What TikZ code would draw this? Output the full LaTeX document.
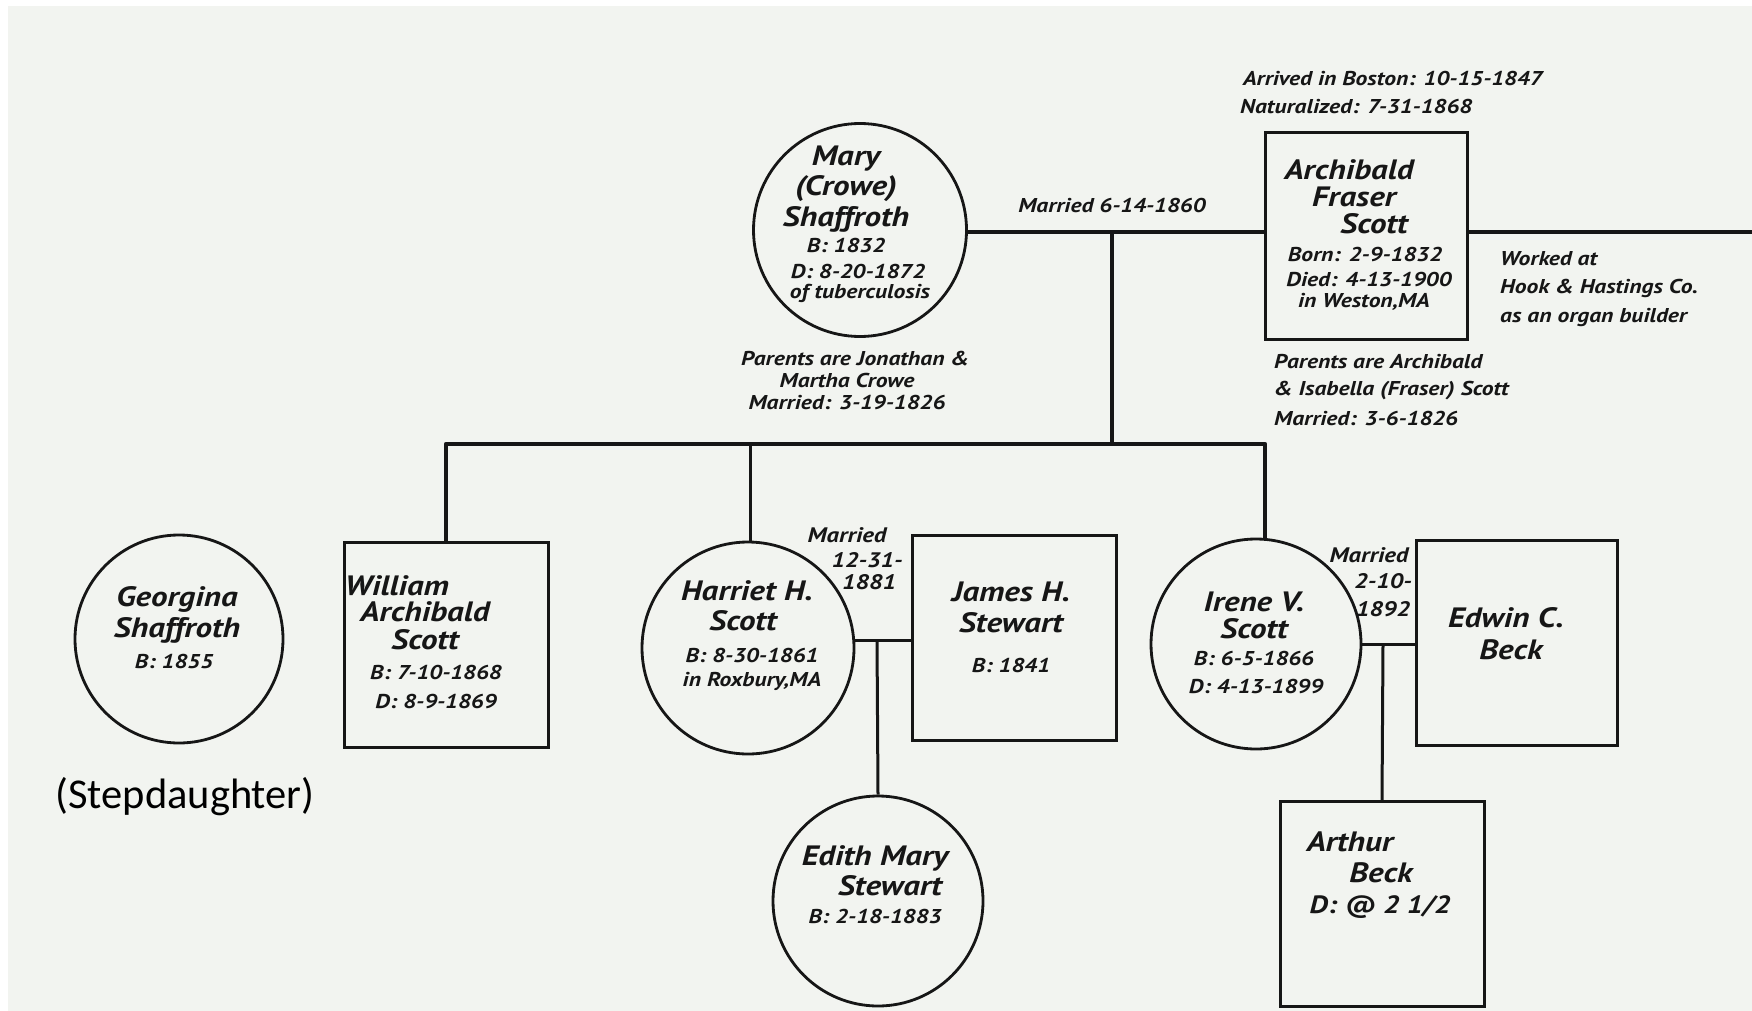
\documentclass[tikz,border=0pt]{standalone}
\usepackage{fontspec}
\setmainfont{PT Sans}
\newfontfamily\dfont[FakeStretch=1.18]{PT Sans}
\newfontfamily\calib{Carlito}
\definecolor{bgc}{HTML}{F2F4F0}
\definecolor{ink}{HTML}{161616}
\begin{document}
\begin{tikzpicture}[x=1pt,y=-1pt,
  nm/.style={inner sep=0pt, text=ink, font=\dfont\bfseries\itshape\fontsize{28}{30}\selectfont},
  sm/.style={inner sep=0pt, text=ink, font=\dfont\bfseries\itshape\fontsize{20}{23}\selectfont},
  nt/.style={inner sep=0pt, text=ink, font=\dfont\bfseries\itshape\fontsize{20}{23}\selectfont},
  mt/.style={inner sep=0pt, text=ink, font=\dfont\bfseries\itshape\fontsize{21}{23}\selectfont},
  fem/.style={draw=ink, line width=2.8pt, circle, minimum size=#1, inner sep=0pt},
  mal/.style={draw=ink, line width=3pt, rectangle, minimum width=204pt, minimum height=205pt, inner sep=0pt},
  main/.style={draw=ink, line width=4.2pt},
  sub/.style={draw=ink, line width=3pt}]
\useasboundingbox (0,0) rectangle (1752,1011);
\fill[white] (0,0) rectangle (1752,1011);
\fill[bgc] (8,6) rectangle (1752,1011);

% ---------- shapes ----------
\node[fem=213pt] (mary) at (860,230) {};
\node[mal, minimum width=202pt, minimum height=206pt] (arch) at (1366,236) {};
\node[fem=208pt] (georgina) at (179,639) {};
\node[mal] (william) at (446,645) {};
\node[fem=212pt] (harriet) at (748,648) {};
\node[mal] (james) at (1014,638) {};
\node[fem=210pt] (edith) at (878,901) {};
\node[fem=210pt] (irene) at (1256,644) {};
\node[mal, minimum width=201pt] (edwin) at (1517,643) {};
\node[mal, minimum width=204pt] (arthur) at (1382,904) {};

% ---------- connectors ----------
\coordinate (mid) at (1112,232);
\coordinate (edge) at (1752,232);
\coordinate (barL) at (446,444);
\coordinate (barM) at (1112,444);
\coordinate (barH) at (750,444);
\coordinate (barR) at (1265,444);
\coordinate (hj) at (877,640);
\coordinate (ie) at (1383,644);
\draw[main] (mary.east |- mid) -- (arch.west |- mid);
\draw[main] (arch.east |- edge) -- (edge);
\draw[main] (mid) -- (barM);
\draw[main, line join=round] (william.north) -- (barL) -- (barR) -- (barR |- irene.north);
\draw[sub] (barH) -- (barH |- harriet.north);
\draw[sub] (harriet.east |- hj) -- (james.west |- hj);
\draw[sub] (hj) -- (edith.north);
\draw[sub] (irene.east) -- (edwin.west |- ie);
\draw[sub] (ie) -- (arthur.north);

% ---------- Mary ----------
\node[nm] (m1) at (846,159) {Mary};
\node[nm] (m2) at (846,189) {(Crowe)};
\node[nm] (m3) at (846,219) {Shaffroth};
\node[sm] (m4) at (846,245) {B: 1832};
\node[sm] (m5) at (858,271) {D: 8-20-1872};
\node[sm] (m6) at (860,293) {of tuberculosis};
\node[nt] (mm) at (1112,205) {Married 6-14-1860};
\node[nt] (mp1) at (855,359) {Parents are Jonathan \&};
\node[nt] (mp2) at (847,380) {Martha Crowe};
\node[nt] (mp3) at (847,402) {Married: 3-19-1826};

% ---------- Archibald ----------
\node[nt, anchor=west] (a0) at (1243,79) {Arrived in Boston: 10-15-1847};
\node[nt, anchor=west] (a00) at (1240,107) {Naturalized: 7-31-1868};
\node[nm] (a1) at (1349,170) {Archibald};
\node[nm] (a2) at (1354,197) {Fraser};
\node[nm] (a3) at (1374,224) {Scott};
\node[sm] (a4) at (1365,254) {Born: 2-9-1832};
\node[sm] (a5) at (1369,279) {Died: 4-13-1900};
\node[sm] (a6) at (1364,302) {in Weston,MA};
\node[nt, anchor=west] (w1) at (1500,259) {Worked at};
\node[nt, anchor=west] (w2) at (1500,288) {Hook \& Hastings Co.};
\node[nt, anchor=west] (w3) at (1500,318) {as an organ builder};
\node[nt, anchor=west] (ap1) at (1274,362) {Parents are Archibald};
\node[nt, anchor=west] (ap2) at (1274,391) {\& Isabella (Fraser) Scott};
\node[nt, anchor=west] (ap3) at (1274,418) {Married: 3-6-1826};

% ---------- Georgina ----------
\node[nm] (g1) at (177,599) {Georgina};
\node[nm] (g2) at (177,630) {Shaffroth};
\node[sm] (g3) at (174,661) {B: 1855};
\node[inner sep=0pt, font=\calib\fontsize{42.5}{44}\selectfont] (step) at (185,797) {(Stepdaughter)};

% ---------- William ----------
\node[nm] (wi1) at (397,586) {William};
\node[nm] (wi2) at (425,612) {Archibald};
\node[nm] (wi3) at (425,640) {Scott};
\node[sm] (wi4) at (436,672) {B: 7-10-1868};
\node[sm] (wi5) at (436,701) {D: 8-9-1869};

% ---------- Harriet & James ----------
\node[nm] (h1) at (747,591) {Harriet H.};
\node[nm] (h2) at (743,621) {Scott};
\node[sm] (h3) at (752,655) {B: 8-30-1861};
\node[sm] (h4) at (752,681) {in Roxbury,MA};
\node[mt] (hm1) at (847,535) {Married};
\node[mt] (hm2) at (867,560) {12-31-};
\node[mt] (hm3) at (869,582) {1881};
\node[nm] (j1) at (1011,592) {James H.};
\node[nm] (j2) at (1011,623) {Stewart};
\node[sm] (j3) at (1011,665) {B: 1841};

% ---------- Edith ----------
\node[nm] (e1) at (875,858) {Edith Mary};
\node[nm] (e2) at (890,886) {Stewart};
\node[sm] (e3) at (875,916) {B: 2-18-1883};

% ---------- Irene & Edwin ----------
\node[nm] (i1) at (1254,602) {Irene V.};
\node[nm] (i2) at (1254,629) {Scott};
\node[sm] (i3) at (1254,658) {B: 6-5-1866};
\node[sm] (i4) at (1256,686) {D: 4-13-1899};
\node[mt] (im1) at (1369,555) {Married};
\node[mt] (im2) at (1383,581) {2-10-};
\node[mt] (im3) at (1383,609) {1892};
\node[nm] (ed1) at (1506,618) {Edwin C.};
\node[nm] (ed2) at (1511,650) {Beck};

% ---------- Arthur ----------
\node[nm] (ar1) at (1350,842) {Arthur};
\node[nm] (ar2) at (1381,873) {Beck};
\node[nm, font=\dfont\bfseries\itshape\fontsize{25}{28}\selectfont] (ar3) at (1380,907) {D: @ 2 1/2};
\end{tikzpicture}
\end{document}
